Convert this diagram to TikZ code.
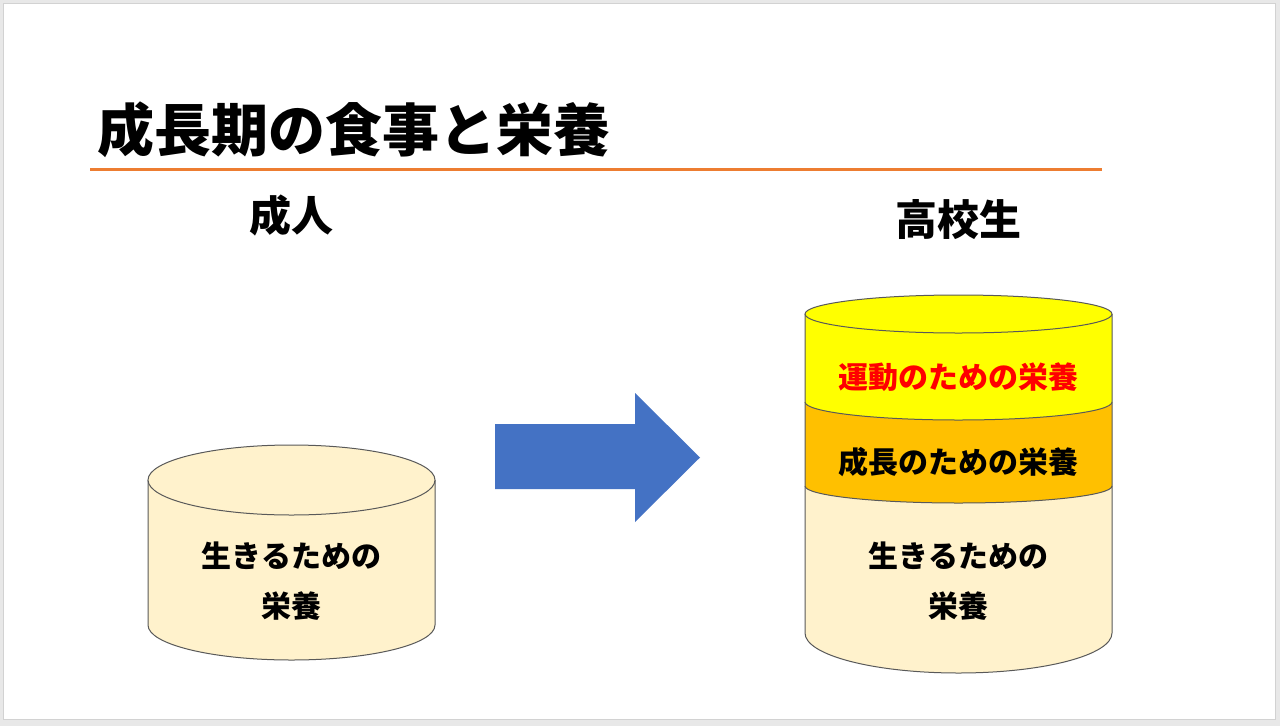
\documentclass[tikz,border=0pt]{standalone}
\usepackage{fontspec}
\setmainfont{Noto Sans CJK JP}
\usetikzlibrary{positioning}

\definecolor{cream}{HTML}{FFF2CC}
\definecolor{growth}{HTML}{FFC000}
\definecolor{sport}{HTML}{FFFF00}
\definecolor{arrowblue}{HTML}{4472C4}
\definecolor{titleline}{HTML}{ED7D31}

\begin{document}
\begin{tikzpicture}[x=1pt, y=-1pt]

        \def\lc{291.5}          % centre of the adult can
        \def\lr{143.5}          % its half width
        \def\rc{958.5}          % centre of the student can
        \def\rr{153.5}          % its half width
        \tikzstyle{can}=[draw=black!65, line width=1pt]
        \tikzstyle{cantext}=[font={\fontsize{30pt}{50pt}\selectfont\bfseries}, align=center, inner sep=0pt]
        \tikzstyle{head}=[font={\fontsize{42pt}{42pt}\selectfont\bfseries}, inner sep=0pt]

        % Slide frame
        \useasboundingbox (0,0) rectangle (1280,726);
        \fill[gray!18] (0,0) rectangle (1280,726);
        \fill[white, draw=gray!35] (3,3) rectangle (1275,719);

        % Title and rule
        \node[font={\fontsize{57pt}{57pt}\selectfont\bfseries}, inner sep=0pt] (title) at (354,130) {成長期の食事と栄養};
        \draw[titleline, line width=3pt] (90,169) -- (1102,169);

        % Column heads
        \node[head] (adult) at (291,215) {成人};
        \node[head] (student) at (958.5,220) {高校生};

        % Draw the adult can
        \filldraw[can, fill=cream] (\lc-\lr,480) -- (\lc-\lr,625) arc[start angle=180, end angle=0, x radius=\lr, y radius=35] -- (\lc+\lr,480);
        \filldraw[can, fill=cream] (\lc,480) ellipse[x radius=\lr, y radius=35];
        \node[cantext] (live-l) at (\lc,581) {生きるための\\栄養};

        % Draw the block arrow
        \fill[arrowblue] (495,424) -- (635,424) -- (635,393) -- (700,457.5) -- (635,522) -- (635,489) -- (495,489) -- cycle;

        % Draw the student can, from the bottom up
        \filldraw[can, fill=cream] (\rc-\rr,486) -- (\rc-\rr,633) arc[start angle=180, end angle=0, x radius=\rr, y radius=40] -- (\rc+\rr,486);
        \filldraw[can, fill=growth] (\rc-\rr,402) -- (\rc-\rr,486) arc[start angle=180, end angle=0, x radius=\rr, y radius=17] -- (\rc+\rr,402);
        \filldraw[can, fill=sport] (\rc-\rr,314) -- (\rc-\rr,402) arc[start angle=180, end angle=0, x radius=\rr, y radius=18] -- (\rc+\rr,314);
        \filldraw[can, fill=sport] (\rc,314) ellipse[x radius=\rr, y radius=19];

        \node[cantext, text=red] (sport) at (\rc,377) {運動のための栄養};
        \node[cantext] (grow) at (\rc,462) {成長のための栄養};
        \node[cantext] (live-r) at (\rc,581) {生きるための\\栄養};

\end{tikzpicture}
\end{document}
